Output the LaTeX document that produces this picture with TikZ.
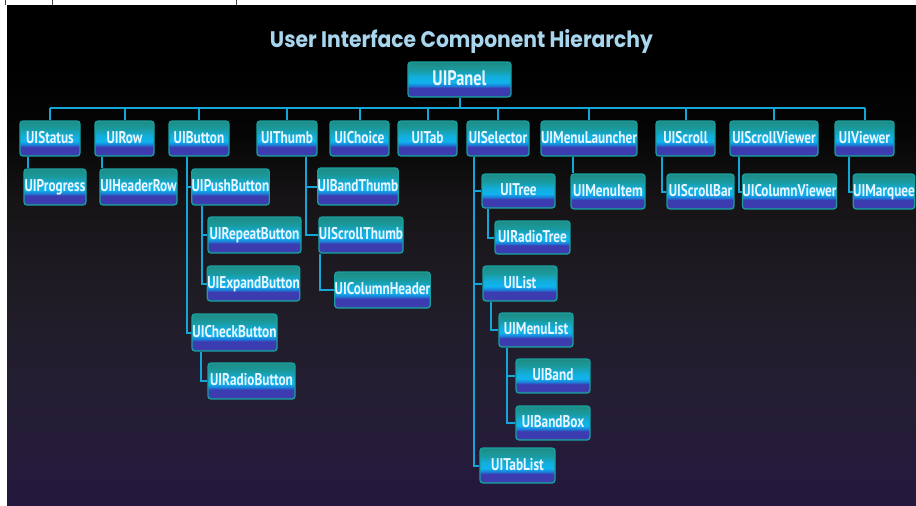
\documentclass[tikz,border=0pt]{standalone}
\usepackage{fontspec}
\newfontfamily\boxfont[FakeStretch=0.78]{PT Sans}
\newfontfamily\titlefont{Poppins}
\usetikzlibrary{calc}
\definecolor{bgA}{HTML}{24183E}
\definecolor{bgB}{HTML}{241E34}
\definecolor{bgC}{HTML}{201C26}
\definecolor{bgD}{HTML}{161416}
\definecolor{bgE}{HTML}{050505}
\definecolor{bxA}{HTML}{2A6A9A}
\definecolor{bxB}{HTML}{3C3CB0}
\definecolor{bxC}{HTML}{1C7CD8}
\definecolor{bxD}{HTML}{10B4EE}
\definecolor{bxE}{HTML}{12AEDC}
\definecolor{bxG}{HTML}{1A9A9E}
\definecolor{bxF}{HTML}{1E8C84}
\definecolor{bxborder}{HTML}{18A0A0}
\definecolor{bxtext}{HTML}{EAF6FF}
\definecolor{edgecol}{HTML}{14A6D6}
\definecolor{titlecol}{HTML}{A8D6EE}
\pgfdeclareverticalshading{bgshade}{100bp}{color(0bp)=(bgA); color(25bp)=(bgA); color(35.6bp)=(bgB); color(45.6bp)=(bgC); color(55.5bp)=(bgD); color(62.5bp)=(bgE); color(69bp)=(black); color(100bp)=(black)}
\pgfdeclareverticalshading{bxshade}{100bp}{color(0bp)=(bxA); color(25bp)=(bxA); color(28bp)=(bxB); color(38bp)=(bxB); color(41bp)=(bxC); color(46bp)=(bxD); color(54bp)=(bxE); color(64bp)=(bxG); color(75bp)=(bxF); color(100bp)=(bxF)}
\pgfdeclarelayer{back}
\pgfdeclarelayer{edges}
\pgfsetlayers{back,edges,main}
\tikzset{
  bx/.style={rectangle, rounded corners=3pt, draw=bxborder, line width=1.3pt,
    shading=bxshade, inner sep=0pt, text=bxtext,
    font=\boxfont\bfseries\fontsize{17}{17}\selectfont,
    text height=12pt, text depth=3pt},
  bigbx/.style={bx, font=\boxfont\bfseries\fontsize{21}{21}\selectfont,
    text height=15pt, text depth=4pt},
  edge/.style={draw=edgecol, line width=2pt},
  tick/.style={draw=black!75, line width=0.8pt}
}
\begin{document}
\begin{tikzpicture}[x=1pt,y=-1pt]
\useasboundingbox (0,0) rectangle (916,506);
\begin{pgfonlayer}{back}
\fill[white] (0,0) rectangle (916,506);
\shade[shading=bgshade] (7,5) rectangle (916,506);
\draw[tick] (5.5,0) -- (5.5,4.5);
\draw[tick] (52.5,0) -- (52.5,4.5);
\draw[tick] (236,0) -- (236,4.5);
\end{pgfonlayer}

\node[anchor=base, inner sep=0pt, text=titlecol] (title) at (461.5,47)
  {\resizebox{383pt}{18pt}{\titlefont\bfseries User Interface Component Hierarchy}};

\node[bigbx, minimum width=103pt, minimum height=35pt] (panel) at (459.5,79.5) {UIPanel};

% row 1
\node[bx, minimum width=60pt, minimum height=35pt] (status) at (50,138.5) {UIStatus};
\node[bx, minimum width=59pt, minimum height=35pt] (row) at (124.5,138.5) {UIRow};
\node[bx, minimum width=60pt, minimum height=35pt] (button) at (199,138.5) {UIButton};
\node[bx, minimum width=60pt, minimum height=35pt] (thumb) at (287,138.5) {UIThumb};
\node[bx, minimum width=59pt, minimum height=35pt] (choice) at (359.5,138.5) {UIChoice};
\node[bx, minimum width=59pt, minimum height=35pt] (tab) at (427.5,138.5) {UITab};
\node[bx, minimum width=62pt, minimum height=35pt] (selector) at (498,138.5) {UISelector};
\node[bx, minimum width=94pt, minimum height=35pt] (menulauncher) at (589,138.5) {UIMenuLauncher};
\node[bx, minimum width=59pt, minimum height=35pt] (scroll) at (685.5,138.5) {UIScroll};
\node[bx, minimum width=88pt, minimum height=35pt] (scrollviewer) at (774,138.5) {UIScrollViewer};
\node[bx, minimum width=59pt, minimum height=35pt] (viewer) at (864.5,138.5) {UIViewer};

% row 2
\node[bx, minimum width=62pt, minimum height=36pt] (progress) at (55,187) {UIProgress};
\node[bx, minimum width=77pt, minimum height=36pt] (headerrow) at (138.5,187) {UIHeaderRow};
\node[bx, minimum width=77pt, minimum height=36pt] (pushbutton) at (230.5,187) {UIPushButton};
\node[bx, minimum width=78pt, minimum height=37pt] (bandthumb) at (358,186.5) {UIBandThumb};
\node[bx, minimum width=73pt, minimum height=34pt] (tree) at (518.5,191) {UITree};
\node[bx, minimum width=74pt, minimum height=35pt] (menuitem) at (608,191.5) {UIMenuItem};
\node[bx, minimum width=67pt, minimum height=35pt] (scrollbar) at (700.5,191.5) {UIScrollBar};
\node[bx, minimum width=91pt, minimum height=35pt] (columnviewer) at (789.5,191.5) {UIColumnViewer};
\node[bx, minimum width=60pt, minimum height=35pt] (marquee) at (884,191.5) {UIMarquee};

% lower rows
\node[bx, minimum width=93pt, minimum height=36pt] (repeatbutton) at (254.5,235) {UIRepeatButton};
\node[bx, minimum width=82pt, minimum height=36pt] (scrollthumb) at (361,235) {UIScrollThumb};
\node[bx, minimum width=75pt, minimum height=33pt] (radiotree) at (532.5,237.5) {UIRadioTree};
\node[bx, minimum width=89pt, minimum height=35pt] (expandbutton) at (253.5,283.5) {UIExpandButton};
\node[bx, minimum width=93pt, minimum height=36pt] (columnheader) at (382.5,290) {UIColumnHeader};
\node[bx, minimum width=74pt, minimum height=35pt] (list) at (520,283.5) {UIList};
\node[bx, minimum width=85pt, minimum height=37pt] (checkbutton) at (234.5,332.5) {UICheckButton};
\node[bx, minimum width=74pt, minimum height=34pt] (menulist) at (536,330) {UIMenuList};
\node[bx, minimum width=87pt, minimum height=36pt] (radiobutton) at (251.5,381) {UIRadioButton};
\node[bx, minimum width=74pt, minimum height=34pt] (band) at (553,376) {UIBand};
\node[bx, minimum width=74pt, minimum height=34pt] (bandbox) at (553,423) {UIBandBox};
\node[bx, minimum width=75pt, minimum height=35pt] (tablist) at (517.5,465.5) {UITabList};

\begin{pgfonlayer}{edges}
\coordinate (bus) at ($(panel.south)+(0,10)$);
\draw[edge] (panel.south) -- (bus);
\draw[edge] (status.north |- bus) -- (viewer.north |- bus);
\foreach \n in {status,row,button,thumb,choice,tab,selector,menulauncher,scroll,scrollviewer,viewer}
  \draw[edge] (\n.north) -- (\n.north |- bus);

\foreach \p/\d in {status/9,row/8,button/19,thumb/50,selector/8,menulauncher/33,scroll/7,scrollviewer/10,viewer/15,pushbutton/11,scrollthumb/2,checkbutton/10,tree/7,list/9,menulist/9}
  \coordinate (\p-t) at ($(\p.south west)+(\d,0)$);

\draw[edge] (status-t) -- (status-t |- progress.north);
\draw[edge] (row-t) -- (row-t |- headerrow.north);
\draw[edge] (menulauncher-t) -- (menulauncher-t |- menuitem.north);
\foreach \p/\c in {button/pushbutton,button/checkbutton,thumb/bandthumb,thumb/scrollthumb,
  selector/tree,selector/list,selector/tablist,scroll/scrollbar,scrollviewer/columnviewer,
  viewer/marquee,pushbutton/repeatbutton,pushbutton/expandbutton,scrollthumb/columnheader,
  checkbutton/radiobutton,tree/radiotree,list/menulist,menulist/band,menulist/bandbox}
  \draw[edge] (\p-t) |- (\c.west);
\end{pgfonlayer}
\end{tikzpicture}
\end{document}
